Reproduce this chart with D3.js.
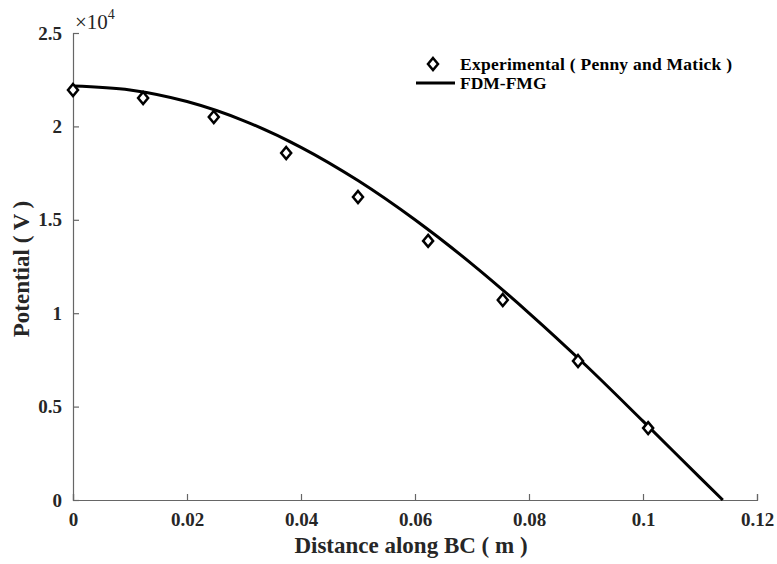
<!DOCTYPE html>
<html><head><meta charset="utf-8">
<script src="https://cdn.jsdelivr.net/npm/d3@7"></script>
<style>body{margin:0;background:#fff}svg{display:block}text{font-family:'Liberation Serif','Times New Roman',serif}</style>
</head><body>
<script>
const expX = [0, 0.0123, 0.0247, 0.0374, 0.0500, 0.0623, 0.0754, 0.0886, 0.1009];
const expY = [21950, 21520, 20500, 18580, 16220, 13870, 10710, 7440, 3850];
const fdmX = [0, 0.01, 0.02, 0.03, 0.04, 0.05, 0.06, 0.07, 0.08, 0.09, 0.10, 0.11, 0.1140];
const fdmY = [22160, 21950, 21330, 20300, 18880, 17100, 15000, 12630, 10010, 7200, 4220, 1200, 0];
const xTicks = [0, 0.02, 0.04, 0.06, 0.08, 0.1, 0.12];
const yTicks = [0, 5000, 10000, 15000, 20000, 25000];
const xLabel = "Distance along BC ( m )";
const yLabel = "Potential ( V )";
const legendLabels = ["Experimental ( Penny and Matick )", "FDM-FMG"];

const W = 777, H = 564;
const m = {left: 73, right: 20, top: 33, bottom: 64};
const svg = d3.select("body").append("svg").attr("width", W).attr("height", H);
const x = d3.scaleLinear().domain([0, 0.12]).range([m.left, W - m.right]);
const y = d3.scaleLinear().domain([0, 25000]).range([H - m.bottom, m.top]);
const font = "'Liberation Serif','Times New Roman',serif";
const axisCol = "#666";

const xAxis = svg.append("g").attr("transform", `translate(0,${y(0)})`)
  .call(d3.axisBottom(x).tickValues(xTicks).tickSize(-6).tickPadding(13)
    .tickFormat(d => d === 0 ? "0" : String(+d.toFixed(2))));
const yAxis = svg.append("g").attr("transform", `translate(${x(0)},0)`)
  .call(d3.axisLeft(y).tickValues(yTicks).tickSize(-6).tickPadding(11)
    .tickFormat(d => String(d / 10000)));
[xAxis, yAxis].forEach(g => {
  g.attr("font-family", font).attr("font-size", 19).attr("font-weight", "bold");
  g.select(".domain").attr("stroke", axisCol).attr("stroke-width", 1.2);
  g.selectAll(".tick line").attr("stroke", axisCol).attr("stroke-width", 1.2);
  g.selectAll(".tick text").attr("fill", "#262626").attr("font-family", font)
    .attr("font-weight", "bold").attr("font-size", 19);
});

// exponent label
const ex = svg.append("text").attr("x", 75).attr("y", 29).attr("fill", "#262626")
  .attr("font-family", font).attr("font-size", 21);
ex.append("tspan").text("\u00d710");
ex.append("tspan").attr("dy", -10).attr("font-size", 14).text("4");

// axis labels
svg.append("text").attr("x", 411).attr("y", 553).attr("text-anchor", "middle")
  .attr("fill", "#262626").attr("font-family", font).attr("font-weight", "bold").attr("font-size", 23)
  .text(xLabel);
svg.append("text").attr("transform", `translate(29,269) rotate(-90)`)
  .attr("text-anchor", "middle").attr("fill", "#262626").attr("font-family", font)
  .attr("font-weight", "bold").attr("font-size", 23).text(yLabel);

// FDM line
const line = d3.line().x((d, i) => x(fdmX[i])).y(d => y(d)).curve(d3.curveMonotoneX);
svg.append("path").datum(fdmY).attr("d", line).attr("fill", "none")
  .attr("stroke", "#000").attr("stroke-width", 3);

// experimental markers
const diamond = (cx, cy) => `M${cx},${cy - 6}L${cx + 5},${cy}L${cx},${cy + 6}L${cx - 5},${cy}Z`;
svg.append("g").selectAll("path").data(expY).join("path")
  .attr("d", (d, i) => diamond(x(expX[i]), y(d)))
  .attr("fill", "#fff").attr("stroke", "#000").attr("stroke-width", 2.5);

// legend
const lg = svg.append("g");
lg.append("path").attr("d", diamond(433, 64)).attr("fill", "#fff").attr("stroke", "#000").attr("stroke-width", 2.5);
lg.append("line").attr("x1", 416).attr("x2", 455).attr("y1", 83).attr("y2", 83)
  .attr("stroke", "#000").attr("stroke-width", 3);
legendLabels.forEach((t, i) => {
  lg.append("text").attr("x", 460).attr("y", 70 + i * 19).attr("fill", "#000")
    .attr("font-family", font).attr("font-weight", "bold").attr("font-size", 17.5)
    .attr("textLength", i === 0 ? 272 : null).text(t);
});
</script>
</body></html>
